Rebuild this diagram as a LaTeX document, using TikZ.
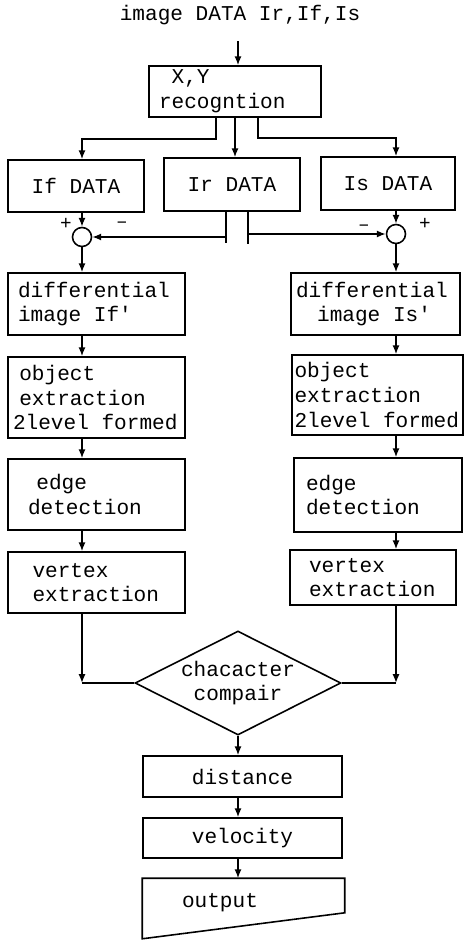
\documentclass[tikz,border=0pt]{standalone}
\usepackage{fontspec}
\usetikzlibrary{shapes.geometric,arrows.meta}
\newfontfamily\boxfont{Liberation Mono}[WordSpace={1,0,0}]
\tikzset{
  procbox/.style={draw, line width=0.9pt, align=left, inner ysep=0pt,
    font=\boxfont\fontsize{12}{14}\selectfont,
    execute at begin node={\spaceskip=7.2pt\relax}},
  databox/.style={procbox, align=center, inner xsep=0.08cm},
  sumnode/.style={circle, draw, line width=0.9pt, inner sep=0pt, minimum size=0.38cm},
  signlbl/.style={font=\boxfont\fontsize{11}{12}\selectfont, inner sep=0pt}
}
\begin{document}
\begin{tikzpicture}[x=0.02cm, y=-0.02cm, line width=0.9pt, >={Latex[length=5pt,width=4pt]}]
  \useasboundingbox (0,0) rectangle (466,942);
  % input and split
  \node[font=\boxfont\fontsize{12}{14}\selectfont] (title) at (240,15) {image DATA Ir,If,Is};
  \node[procbox, text width=3.04cm, inner xsep=0.2cm, minimum height=1.02cm] (xy) at (235,91.5)
    {\hspace*{0.6em}X,Y\\recogntion};
  \node[databox, text width=2.56cm, minimum height=1.04cm] (IfD) at (76,186) {If DATA};
  \node[databox, text width=2.56cm, minimum height=1.06cm] (IrD) at (232,184.5) {Ir DATA};
  \node[databox, text width=2.52cm, minimum height=1.06cm] (IsD) at (388,183.5) {Is DATA};
  \node[sumnode] (sumf) at (82,237) {};
  \node[sumnode] (sums) at (396,234) {};
  \node[signlbl] (pf) at (66,224) {+};
  \node[signlbl] (mf) at (122,225) {\textendash};
  \node[signlbl] (ms) at (364,228) {\textendash};
  \node[signlbl] (ps) at (425,224) {+};
  % left column
  \node[procbox, text width=3.14cm, inner xsep=0.2cm, minimum height=1.24cm] (diffF) at (96.5,304)
    {differential\\image If'};
  \node[procbox, text width=3.34cm, inner xsep=0.1cm, minimum height=1.62cm] (objF) at (96.5,397.5)
    {\hspace*{0.3em}object\\\hspace*{0.3em}extraction\\2level formed};
  \node[procbox, text width=2.74cm, inner xsep=0.4cm, minimum height=1.42cm] (edgeF) at (96.5,494.5)
    {\hspace*{0.4em}edge\\detection};
  \node[procbox, text width=2.56cm, inner xsep=0.49cm, minimum height=1.22cm] (vertF) at (96.5,582.5)
    {vertex\\extraction};
  % right column
  \node[procbox, text width=3.18cm, inner xsep=0.1cm, minimum height=1.24cm] (diffS) at (375.5,304)
    {differential\\\hspace*{1em}image Is'};
  \node[procbox, text width=3.32cm, inner xsep=0.05cm, minimum height=1.6cm] (objS) at (377.5,395)
    {object\\extraction\\2level formed};
  \node[procbox, text width=2.88cm, inner xsep=0.24cm, minimum height=1.48cm] (edgeS) at (378,495)
    {edge\\detection};
  \node[procbox, text width=2.56cm, inner xsep=0.38cm, minimum height=1.1cm] (vertS) at (373,577.5)
    {vertex\\extraction};
  % merge and output
  \node[diamond, draw, aspect=2, inner sep=0pt, minimum width=4.12cm, minimum height=2.08cm,
    align=center, font=\boxfont\fontsize{12}{14}\selectfont] (comp) at (238,683) {chacacter\\compair};
  \node[databox, text width=3.82cm, minimum height=0.82cm] (dist) at (242.5,776.5) {distance};
  \node[databox, text width=3.82cm, minimum height=0.8cm] (velo) at (242.5,838) {velocity};
  \node[minimum width=4.02cm, minimum height=1.18cm, inner sep=0pt] (outp) at (243.5,908.5) {};
  \draw (outp.north west) -- (outp.north east) -- ([yshift=0.52cm]outp.south east)
    -- (outp.south west) -- cycle;
  \node[font=\boxfont\fontsize{12}{14}\selectfont] (outtxt) at (220,903) {output};

  \draw[->] ([yshift=-0.2cm]title.south -| 238,0) -- (238,0 |- xy.north);
  \draw[->] ([xshift=-0.38cm]xy.south) -- ++(0,21) -| (sumf |- IfD.north);
  \draw[->] (xy.south) -- (xy.south |- IrD.north);
  \draw[->] ([xshift=0.46cm]xy.south) -- ++(0,20) -| (sums |- IsD.north);
  \draw[->] (sumf |- IfD.south) -- (sumf.north);
  \draw[->] (sums |- IsD.south) -- (sums.north);
  \coordinate (irl) at ([xshift=-0.12cm]IrD.south);
  \coordinate (irr) at ([xshift=0.32cm]IrD.south);
  \draw (irl) -- ++(0,31);
  \draw (irr) -- ++(0,32);
  \draw[->] (irl |- sumf.east) -- (sumf.east);
  \draw[->] (irr |- sums.west) -- (sums.west);
  \draw[->] (sumf.south) -- (sumf |- diffF.north);
  \draw[->] (sums.south) -- (sums |- diffS.north);
  \foreach \a/\b in {diffF/objF, objF/edgeF, edgeF/vertF}
    \draw[->] (sumf |- \a.south) -- (sumf |- \b.north);
  \foreach \a/\b in {diffS/objS, objS/edgeS, edgeS/vertS}
    \draw[->] (sums |- \a.south) -- (sums |- \b.north);
  \draw[->] (sumf |- vertF.south) -- (sumf |- comp.west);
  \draw (sumf |- comp.west) -- (comp.west);
  \draw[->] (sums |- vertS.south) -- (sums |- comp.east);
  \draw (sums |- comp.east) -- (comp.east);
  \draw[->] (comp.south) -- (comp.south |- dist.north);
  \draw[->] (comp.south |- dist.south) -- (comp.south |- velo.north);
  \draw[->] (comp.south |- velo.south) -- (comp.south |- outp.north);
\end{tikzpicture}
\end{document}
